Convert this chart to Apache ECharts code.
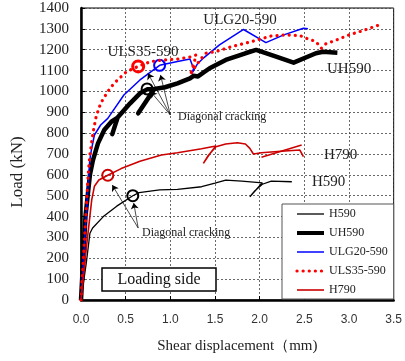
<!DOCTYPE html>
<html lang="en">
<head>
    <meta charset="UTF-8">
    <title>Load - shear displacement</title>
    <script src="https://cdn.jsdelivr.net/npm/echarts@6/dist/echarts.min.js"></script>
    <style>
        html, body { margin: 0; padding: 0; background: #fff; }
    </style>
</head>
<body>
    <div id="main" style="width: 405px;height:361px;"></div>
    <script type="text/javascript">
       // values: [shear displacement (mm), load (kN)]
       var h590 = [[0,0],[0.06,180],[0.1,320],[0.13,345],[0.25,400],[0.4,450],[0.58,500],[0.65,515],
           [0.88,528],[1.08,530],[1.35,543],[1.5,560],[1.62,575],[1.8,570],[2.03,562],[1.89,495],
           [1.95,525],[2.03,555],[2.13,570],[2.36,567]];
       var uh590 = [[0,0],[0.05,400],[0.1,600],[0.134,671],[0.19,751],[0.26,815],[0.34,855],[0.41,875],
           [0.35,795],[0.41,875],[0.55,943],[0.66,991],[0.74,1010],[0.82,1010],[0.64,895],[0.82,1012],
           [0.94,1020],[1.08,1039],[1.22,1063],[1.26,1075],[1.31,1072],[1.44,1111],[1.62,1151],
           [1.84,1183],[1.96,1199],[2.16,1170],[2.38,1138],[2.63,1183],[2.71,1190],[2.87,1186]];
       var ulg20 = [[0,0],[0.05,350],[0.098,671],[0.116,719],[0.15,791],[0.22,839],[0.3,871],[0.48,983],
           [0.66,1055],[0.88,1125],[1.08,1143],[1.22,1155],[1.26,1110],[1.24,1085],[1.3,1130],[1.37,1160],
           [1.55,1223],[1.82,1297],[2.07,1234],[2.27,1271],[2.49,1303],[2.54,1300]];
       var uls35 = [[0,0],[0.04,300],[0.08,600],[0.098,690],[0.134,800],[0.17,880],[0.22,943],[0.3,1000],
           [0.37,1039],[0.51,1095],[0.64,1120],[0.78,1143],[0.93,1151],[1.08,1155],[1.22,1165],[1.29,1175],
           [1.24,1100],[1.22,1079],[1.28,1120],[1.35,1160],[1.4,1183],[1.51,1191],[1.69,1215],[1.91,1239],
           [2.13,1266],[2.3,1271],[2.45,1268],[2.52,1255],[2.63,1239],[2.69,1207],[2.74,1228],[2.85,1245],
           [3.0,1271],[3.18,1295],[3.34,1319]];
       var h790 = [[0,0],[0.06,250],[0.12,480],[0.15,545],[0.2,575],[0.3,598],[0.45,630],[0.66,665],
           [0.9,695],[1.08,706],[1.35,725],[1.51,738],[1.44,700],[1.37,655],[1.42,690],[1.51,735],
           [1.62,748],[1.75,754],[1.84,748],[1.89,727],[1.93,700],[2.02,706],[2.2,712],[2.45,719],[2.49,687]];
       var h790Reload = [[2.02,684],[2.47,743]];

       // diagonal cracking points (circles)
       var crackH590 = [0.58,500];
       var crackUH590 = [0.74,1012];
       var crackULG20 = [0.88,1125];
       var crackULS35 = [0.64,1120];
       var crackH790 = [0.30,598];

       var seriesNames = ['H590','UH590','ULG20-590','ULS35-590','H790'];
       var xTicks = [0,0.5,1.0,1.5,2.0,2.5,3.0,3.5];
       var yTicks = [0,100,200,300,400,500,600,700,800,900,1000,1100,1200,1300,1400];

       var serif = '"Liberation Serif", "Times New Roman", serif';

       function circle(pt, color, bw) {
           return {
               symbol: 'circle', symbolSize: 11, silent: true,
               label: {show: false},
               itemStyle: {color: 'rgba(255,255,255,0)', borderColor: color, borderWidth: bw || 2},
               data: [{coord: pt}]
           };
       }

       function arrow(from, to) {
           return [{coord: from, symbol: 'none'}, {coord: to, symbol: 'arrow'}];
       }

       var myChart = echarts.init(document.getElementById("main"));

       var option = {
           animation: false,
           backgroundColor: '#fff',
           grid: {left: 81, top: 8, right: 2, bottom: 61, show: true, borderColor: '#000', borderWidth: 1},
           xAxis: {
               type: 'value', min: 0, max: 3.5, interval: 0.5,
               axisLine: {show: true, onZero: false, lineStyle: {color: '#000', width: 2.5}},
               axisTick: {show: true, inside: true, length: 4, lineStyle: {color: '#000'}},
               axisLabel: {
                   margin: 14, fontSize: 12, color: '#333', fontFamily: '"Liberation Sans", Arial, sans-serif',
                   formatter: function (v) { return xTicks.indexOf(v) >= 0 ? v.toFixed(1) : ''; }
               },
               splitLine: {show: true, lineStyle: {color: '#444', width: 0.8, type: [2, 2]}},
               name: 'Shear displacement（mm)', nameLocation: 'middle', nameGap: 39,
               nameTextStyle: {fontFamily: serif, fontSize: 15, color: '#222', verticalAlign: 'top'}
           },
           yAxis: {
               type: 'value', min: 0, max: 1400, interval: 100,
               axisLine: {show: true, onZero: false, lineStyle: {color: '#000', width: 2.5}},
               axisTick: {show: true, inside: true, length: 4, lineStyle: {color: '#000'}},
               axisLabel: {
                   margin: 12, fontSize: 15, color: '#222', fontFamily: serif,
                   formatter: function (v) { return yTicks.indexOf(v) >= 0 ? String(v) : ''; }
               },
               splitLine: {show: true, lineStyle: {color: '#444', width: 0.8, type: [2, 2]}}
           },
           legend: {
               data: [
                   {name: 'H590', lineStyle: {width: 1.3}},
                   {name: 'UH590', lineStyle: {width: 4}},
                   {name: 'ULG20-590', lineStyle: {width: 1.5}},
                   {name: 'ULS35-590', lineStyle: {width: 3.2}},
                   {name: 'H790', lineStyle: {width: 1.6}}
               ],
               orient: 'vertical', left: 282, top: 204, width: 122,
               padding: [4, 6, 3, 13], itemGap: 7, itemWidth: 27, itemHeight: 12, itemTextGap: 4,
               backgroundColor: '#fff', borderColor: '#555', borderWidth: 1, borderRadius: 0,
               itemStyle: {opacity: 0},
               textStyle: {fontFamily: serif, fontSize: 12, color: '#222'},
               selectedMode: false, z: 20
           },
           series: [
               {
                   name: 'H590', type: 'line', data: h590, symbol: 'none', z: 3,
                   lineStyle: {color: '#000', width: 1.3}, itemStyle: {color: '#000'},
                   markPoint: circle(crackH590, '#000'),
                   markLine: {
                       silent: true, symbol: ['none', 'arrow'], symbolSize: 6,
                       label: {show: false},
                       lineStyle: {color: '#000', width: 0.7, type: 'solid'},
                       data: [
                           arrow([1.0, 887], [0.75, 1087]),
                           arrow([1.0, 887], [0.89, 1079]),
                           arrow([1.0, 887], [0.78, 999]),
                           arrow([0.64, 345], [0.35, 551]),
                           arrow([0.64, 345], [0.59, 465])
                       ]
                   }
               },
               {
                   name: 'UH590', type: 'line', data: uh590, symbol: 'none', z: 3,
                   lineStyle: {color: '#000', width: 4.5, join: 'round'}, itemStyle: {color: '#000'},
                   markPoint: circle(crackUH590, '#000')
               },
               {
                   name: 'ULG20-590', type: 'line', data: ulg20, symbol: 'none', z: 4,
                   lineStyle: {color: '#0000ff', width: 1.5}, itemStyle: {color: '#0000ff'},
                   markPoint: circle(crackULG20, '#0000ff')
               },
               {
                   name: 'ULS35-590', type: 'line', data: uls35, symbol: 'none', z: 5,
                   lineStyle: {color: '#ff0000', width: 3.2, type: [0.1, 6], cap: 'round'},
                   itemStyle: {color: '#ff0000'},
                   markPoint: circle(crackULS35, '#ff0000', 3)
               },
               {
                   name: 'H790', type: 'line', data: h790, symbol: 'none', z: 6,
                   lineStyle: {color: '#cc0000', width: 1.6}, itemStyle: {color: '#cc0000'},
                   markPoint: circle(crackH790, '#cc0000')
               },
               {
                   name: 'H790', type: 'line', data: h790Reload, symbol: 'none', z: 6,
                   lineStyle: {color: '#cc0000', width: 1.6}, itemStyle: {color: '#cc0000'}
               }
           ],
           graphic: [
               {type: 'text', x: 18, y: 172, rotation: Math.PI / 2, z: 10,
                style: {text: 'Load (kN)', font: '17px ' + serif, fill: '#222', textAlign: 'center', textVerticalAlign: 'middle'}},
               {type: 'text', x: 240, y: 20, z: 10,
                style: {text: 'ULG20-590', font: '15px ' + serif, fill: '#222', textAlign: 'center', textVerticalAlign: 'middle'}},
               {type: 'text', x: 143, y: 52, z: 10,
                style: {text: 'ULS35-590', font: '15px ' + serif, fill: '#222', textAlign: 'center', textVerticalAlign: 'middle'}},
               {type: 'text', x: 327, y: 69, z: 10,
                style: {text: 'UH590', font: '15px ' + serif, fill: '#222', textAlign: 'left', textVerticalAlign: 'middle'}},
               {type: 'text', x: 324, y: 155, z: 10,
                style: {text: 'H790', font: '15px ' + serif, fill: '#222', textAlign: 'left', textVerticalAlign: 'middle'}},
               {type: 'text', x: 312, y: 182, z: 10,
                style: {text: 'H590', font: '15px ' + serif, fill: '#222', textAlign: 'left', textVerticalAlign: 'middle'}},
               {type: 'text', x: 178, y: 117, z: 10,
                style: {text: 'Diagonal cracking', font: '12px ' + serif, fill: '#222', textAlign: 'left', textVerticalAlign: 'middle'}},
               {type: 'text', x: 142, y: 233, z: 10,
                style: {text: 'Diagonal cracking', font: '12px ' + serif, fill: '#222', textAlign: 'left', textVerticalAlign: 'middle'}},
               {type: 'rect', z: 10, shape: {x: 102, y: 268, width: 114, height: 23},
                style: {fill: '#fff', stroke: '#000', lineWidth: 1.5}},
               {type: 'text', x: 159, y: 280, z: 11,
                style: {text: 'Loading side', font: '16px ' + serif, fill: '#111', textAlign: 'center', textVerticalAlign: 'middle'}}
           ]
       };

       myChart.setOption(option);
    </script>
</body>
</html>
